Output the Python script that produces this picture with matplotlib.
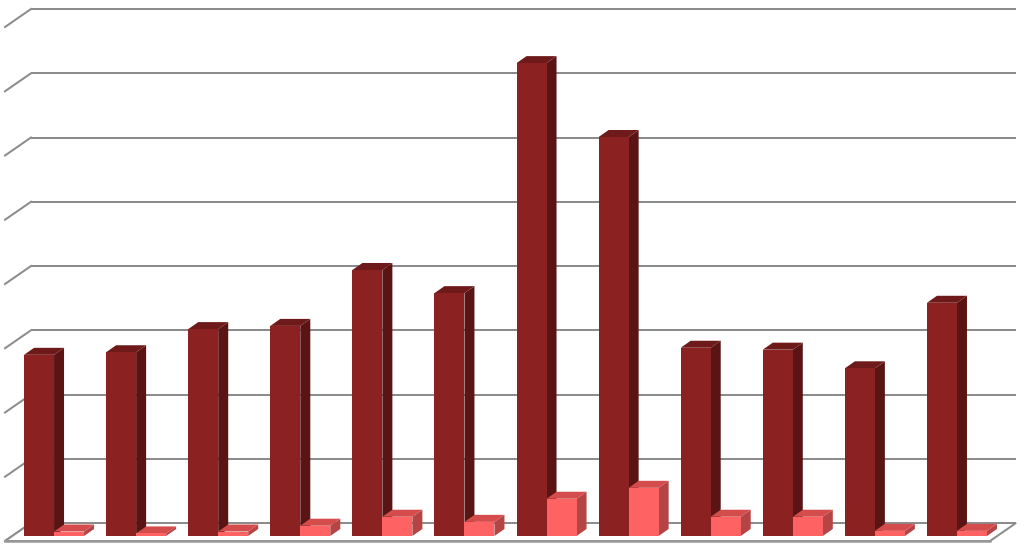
import matplotlib
matplotlib.use("Agg")
import matplotlib.pyplot as plt
from matplotlib.patches import Polygon
import numpy as np

# ---- data (values in gridline units; no labels shown in the reference) ----
categories = list(range(1, 13))
series_dark = [2.82, 2.86, 3.22, 3.27, 4.14, 3.78, 7.36, 6.21, 2.93, 2.90, 2.61, 3.63]
series_light = [0.07, 0.04, 0.07, 0.16, 0.30, 0.22, 0.58, 0.75, 0.30, 0.30, 0.08, 0.08]
grid_levels = list(range(0, 9))

# ---- styles ----
DARK = dict(front="#8B2121", side="#5A1414", top="#6E1A1A")
LIGHT = dict(front="#FF6262", side="#B54444", top="#D44C4C")
GRID = "#8C8C8C"

W, H, DPI = 1024, 547, 100
fig = plt.figure(figsize=(W / DPI, H / DPI), dpi=DPI)
ax = fig.add_axes([13 / W, 11 / H, 985 / W, 514 / H])
n = len(categories)
ax.set_xlim(-0.5, n - 0.5)
ax.set_ylim(0, 8)
ax.axis("off")

# pixel -> data unit conversion
px_x = (n) / 985.0
px_y = 8 / 514.0

BACK = (18 * px_x, 13 * px_y)     # back wall offset relative to bar front plane
FRONT = (-8 * px_x, -5 * px_y)    # floor front edge offset
DEPTH = (10 * px_x, 7 * px_y)     # bar depth offset

x0, x1 = -0.5, n - 0.5
lw = 2 * 72 / DPI

# back wall gridlines + left side ticks
for v in grid_levels:
    ax.plot([x0 + BACK[0], x1 + BACK[0]], [v + BACK[1], v + BACK[1]],
            color=GRID, lw=lw, solid_capstyle="butt", zorder=1, clip_on=False)
    ax.plot([x0 + FRONT[0], x0 + BACK[0]], [v + FRONT[1], v + BACK[1]],
            color=GRID, lw=lw, zorder=1, clip_on=False)

# floor
floor = Polygon([(x0 + FRONT[0], FRONT[1]), (x1 + FRONT[0], FRONT[1]),
                 (x1 + BACK[0], BACK[1]), (x0 + BACK[0], BACK[1])],
                closed=True, facecolor="white", edgecolor=GRID, lw=lw,
                zorder=2, clip_on=False)
ax.add_patch(floor)
ax.plot([x0 + FRONT[0], x1 + FRONT[0]], [FRONT[1], FRONT[1]],
        color="#999999", lw=2.5 * 72 / DPI, zorder=2.1, clip_on=False)

bw = 30 * px_x
xs = np.arange(n)


def bar3d(xl, h, cols, z):
    dx, dy = DEPTH
    ax.add_patch(Polygon([(xl + bw, 0), (xl + bw + dx, dy), (xl + bw + dx, h + dy), (xl + bw, h)],
                         closed=True, facecolor=cols["side"], edgecolor="none", zorder=z, clip_on=False))
    ax.add_patch(Polygon([(xl, h), (xl + bw, h), (xl + bw + dx, h + dy), (xl + dx, h + dy)],
                         closed=True, facecolor=cols["top"], edgecolor="none", zorder=z, clip_on=False))


z = 3
for i in range(n):
    xl_d = xs[i] - bw
    xl_l = xs[i]
    bar3d(xl_d, series_dark[i], DARK, z)
    ax.bar(xl_d, series_dark[i], width=bw, align="edge", color=DARK["front"],
           zorder=z + 0.1, clip_on=False)
    bar3d(xl_l, series_light[i], LIGHT, z + 0.2)
    ax.bar(xl_l, series_light[i], width=bw, align="edge", color=LIGHT["front"],
           zorder=z + 0.3, clip_on=False)
    z += 1

fig.savefig("out.png", dpi=DPI, facecolor="white")
